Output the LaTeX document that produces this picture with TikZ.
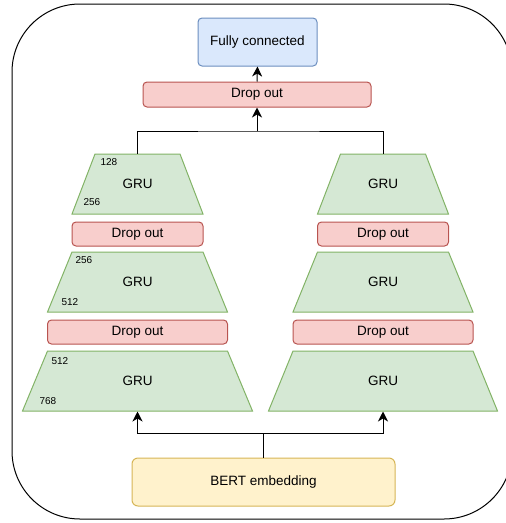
\documentclass[tikz,border=0pt]{standalone}
\usepackage{fontspec}
\setmainfont{Liberation Sans}
\usetikzlibrary{arrows.meta}
\usepackage{xcolor}

\definecolor{grufill}{HTML}{D5E8D4}
\definecolor{grudraw}{HTML}{82B366}
\definecolor{dropfill}{HTML}{F8CECC}
\definecolor{dropdraw}{HTML}{B85450}
\definecolor{fcfill}{HTML}{DAE8FC}
\definecolor{fcdraw}{HTML}{6C8EBF}
\definecolor{bertfill}{HTML}{FFF2CC}
\definecolor{bertdraw}{HTML}{D6B656}

\begin{document}
\begin{tikzpicture}[x=1pt, y=-1pt, line width=1pt,
    box/.style={rectangle, rounded corners=4pt, inner sep=0pt, font=\fontsize{13.5}{16}\selectfont},
    dropbox/.style={box, fill=dropfill, draw=dropdraw, minimum height=24},
    grushape/.style={fill=grufill, draw=grudraw, line join=miter},
    grutext/.style={inner sep=0pt, minimum height=60, font=\fontsize{13.5}{16}\selectfont},
    num/.style={anchor=west, inner sep=0pt, font=\fontsize{10}{12}\selectfont},
    arr/.style={-{Stealth[length=10pt, width=10pt, inset=3pt]}}]
    \def\h{30}
    \clip (0,0) rectangle (506,523);
    \useasboundingbox (0,0) rectangle (506,523);
    \draw[rounded corners=68pt] (12,4) rectangle (512,519);
    % trapezoids
    \foreach \n/\cx/\cy/\bw/\tw in {l1/137.5/184/131/85, l2/137.5/282/180/131, l3/137.5/381/230/180,
                                    r1/383/184/131/85, r2/383/282/180/131, r3/383/381/229/180}{
        \filldraw[grushape] (\cx-\tw/2,\cy-\h) -- (\cx+\tw/2,\cy-\h) -- (\cx+\bw/2,\cy+\h) -- (\cx-\bw/2,\cy+\h) -- cycle;
        \node[grutext] (\n) at (\cx,\cy) {GRU};
    }
    \foreach \n/\cx/\cy/\w in {dl1/137.5/234/131, dl2/137.5/332/180, dr1/383/234/131, dr2/383/332/180}
        \node[dropbox, minimum width=\w] (\n) at (\cx,\cy) {Drop out};
    \node[dropbox, minimum width=228, minimum height=25] (dtop) at (257,94.5) {Drop out};
    \node[box, fill=fcfill, draw=fcdraw, minimum width=119, minimum height=48] (fc) at (257.5,42) {Fully connected};
    \node[box, rounded corners=6pt, fill=bertfill, draw=bertdraw, minimum width=263, minimum height=48] (bert) at (263.5,482) {BERT embedding};
    % sizes
    \node[num] (s1) at (100,162) {128};
    \node[num] (s2) at (83,202) {256};
    \node[num] (s3) at (75,260) {256};
    \node[num] (s4) at (61,302) {512};
    \node[num] (s5) at (51,361) {512};
    \node[num] (s6) at (39,401) {768};
    % connectors
    \coordinate (jt) at (257,131);
    \coordinate (jb) at (263.5,433);
    \draw (l1.north) |- (jt) -| (r1.north);
    \draw[arr] (jt) -- (dtop.south);
    \draw[arr] (dtop.north) -- (fc.south);
    \draw (bert.north) -- (jb);
    \draw[arr] (jb) -| (l3.south);
    \draw[arr] (jb) -| (r3.south);
\end{tikzpicture}
\end{document}
